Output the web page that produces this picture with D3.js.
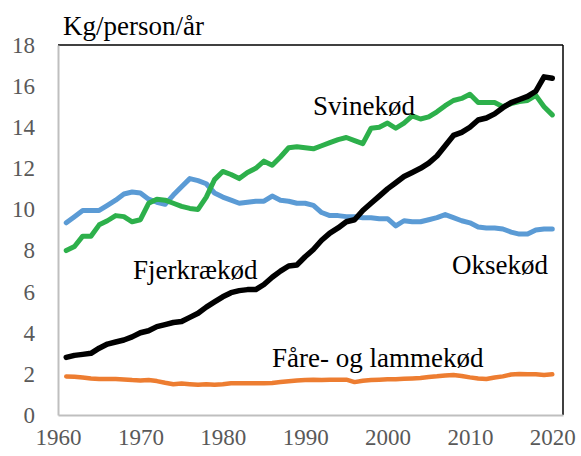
<html>
<script src="https://d3js.org/d3.v7.min.js"></script>
<style>
  body { margin: 0; background: #fff; }
  svg text { font-family: "Times New Roman", Times, "Liberation Serif", Tinos, "DejaVu Serif", "Noto Serif", serif; }
</style>
<body>
<svg width=581 height=456></svg>
<script>
// year axis, 1961-2020
const years = d3.range(1961, 2021);
const xTicks = [1960, 1970, 1980, 1990, 2000, 2010, 2020];
const yTicks = [0, 2, 4, 6, 8, 10, 12, 14, 16, 18];

// kg per person per year
const okse = [9.35, 9.65, 9.95, 9.95, 9.95, 10.2, 10.45, 10.75, 10.85, 10.8,
  10.5, 10.35, 10.25, 10.7, 11.1, 11.5, 11.4, 11.25, 10.8, 10.6,
  10.45, 10.3, 10.35, 10.4, 10.4, 10.65, 10.45, 10.4, 10.3, 10.3,
  10.2, 9.85, 9.7, 9.7, 9.65, 9.65, 9.6, 9.6, 9.55, 9.55,
  9.2, 9.45, 9.4, 9.4, 9.5, 9.6, 9.75, 9.6, 9.45, 9.35,
  9.15, 9.1, 9.1, 9.05, 8.9, 8.8, 8.8, 9.0, 9.05, 9.05];
const svine = [8.0, 8.2, 8.7, 8.7, 9.25, 9.45, 9.7, 9.65, 9.4, 9.5,
  10.3, 10.5, 10.45, 10.3, 10.15, 10.05, 10.0, 10.6, 11.45, 11.85,
  11.7, 11.5, 11.8, 12.0, 12.35, 12.15, 12.55, 13.0, 13.05, 13.0,
  12.95, 13.1, 13.25, 13.4, 13.5, 13.35, 13.2, 13.95, 14.0, 14.2,
  13.95, 14.2, 14.55, 14.4, 14.5, 14.75, 15.05, 15.3, 15.4, 15.6,
  15.2, 15.2, 15.2, 15.0, 15.15, 15.25, 15.3, 15.55, 15.0, 14.6];
const fjerkrae = [2.8, 2.9, 2.95, 3.0, 3.25, 3.45, 3.55, 3.65, 3.8, 4.0,
  4.1, 4.3, 4.4, 4.5, 4.55, 4.75, 4.95, 5.25, 5.5, 5.75,
  5.95, 6.05, 6.1, 6.1, 6.35, 6.7, 7.0, 7.25, 7.3, 7.7,
  8.05, 8.5, 8.85, 9.1, 9.4, 9.5, 9.95, 10.3, 10.65, 11.0,
  11.3, 11.6, 11.8, 12.0, 12.25, 12.6, 13.1, 13.6, 13.75, 14.0,
  14.35, 14.45, 14.65, 14.95, 15.2, 15.35, 15.5, 15.75, 16.45, 16.38];
const faare = [1.87, 1.86, 1.82, 1.78, 1.75, 1.75, 1.75, 1.73, 1.7, 1.68,
  1.7, 1.65, 1.57, 1.5, 1.53, 1.5, 1.47, 1.5, 1.47, 1.5,
  1.54, 1.54, 1.54, 1.54, 1.54, 1.56, 1.6, 1.64, 1.68, 1.7,
  1.72, 1.7, 1.72, 1.72, 1.72, 1.6, 1.67, 1.7, 1.72, 1.74,
  1.74, 1.76, 1.78, 1.8, 1.85, 1.88, 1.92, 1.95, 1.9, 1.83,
  1.78, 1.75, 1.82, 1.88, 1.97, 2.0, 1.98, 1.98, 1.95, 1.98];

const series = [
  {name: "Oksekød", values: okse, color: "#5b9bd5", width: 5, lx: 452, ly: 274},
  {name: "Fåre- og lammekød", values: faare, color: "#ed7d31", width: 4.5, lx: 272, ly: 367},
  {name: "Svinekød", values: svine, color: "#2db04b", width: 5, lx: 313, ly: 115},
  {name: "Fjerkrækød", values: fjerkrae, color: "#000000", width: 5.5, lx: 133, ly: 279}
];

var plotLeft = 58, plotRight = 563, plotTop = 45, plotBottom = 415;

var x = d3.scaleLinear().domain([1960, 2021.3]).range([plotLeft, plotRight]);
var y = d3.scaleLinear().domain([0, 18]).range([plotBottom, plotTop]);

var svg = d3.select("svg");

// frame: top and right dark, axes grey
svg.append("line").attr("x1", plotLeft).attr("x2", plotRight).attr("y1", plotTop).attr("y2", plotTop)
   .attr("stroke", "#000").attr("stroke-width", 1.5);
svg.append("line").attr("x1", plotRight).attr("x2", plotRight).attr("y1", plotTop).attr("y2", plotBottom)
   .attr("stroke", "#000").attr("stroke-width", 1.5);

var yAxis = svg.append("g")
   .attr("transform", "translate(" + plotLeft + ",0)")
   .call(d3.axisLeft(y).tickValues(yTicks).tickSize(0).tickPadding(23));
var xAxis = svg.append("g")
   .attr("transform", "translate(0," + plotBottom + ")")
   .call(d3.axisBottom(x).tickValues(xTicks).tickFormat(d3.format("d")).tickSize(0).tickPadding(14));

[yAxis, xAxis].forEach(function(a) {
  a.attr("font-family", null).attr("font-size", null);
  a.select(".domain").attr("stroke", "#bfbfbf").attr("stroke-width", 2);
  a.selectAll("text")
   .style("font-size", "23px")
   .attr("fill", "#595959");
});

var line = d3.line()
   .x((d, i) => x(years[i]))
   .y(d => y(d));

svg.append("g")
   .selectAll("path")
   .data(series)
   .enter()
   .append("path")
   .attr("d", d => line(d.values))
   .attr("fill", "none")
   .attr("stroke", d => d.color)
   .attr("stroke-width", d => d.width)
   .attr("stroke-linejoin", "round")
   .attr("stroke-linecap", "round");

// series labels
svg.append("g")
   .selectAll("text")
   .data(series)
   .enter()
   .append("text")
   .text(d => d.name)
   .attr("x", d => d.lx)
   .attr("y", d => d.ly)
   .style("font-size", "27px")
   .attr("fill", "#000");

// title
svg.append("text")
   .text("Kg/person/år")
   .attr("x", 63)
   .attr("y", 35)
   .style("font-size", "27px");
</script>
</body>
</html>
